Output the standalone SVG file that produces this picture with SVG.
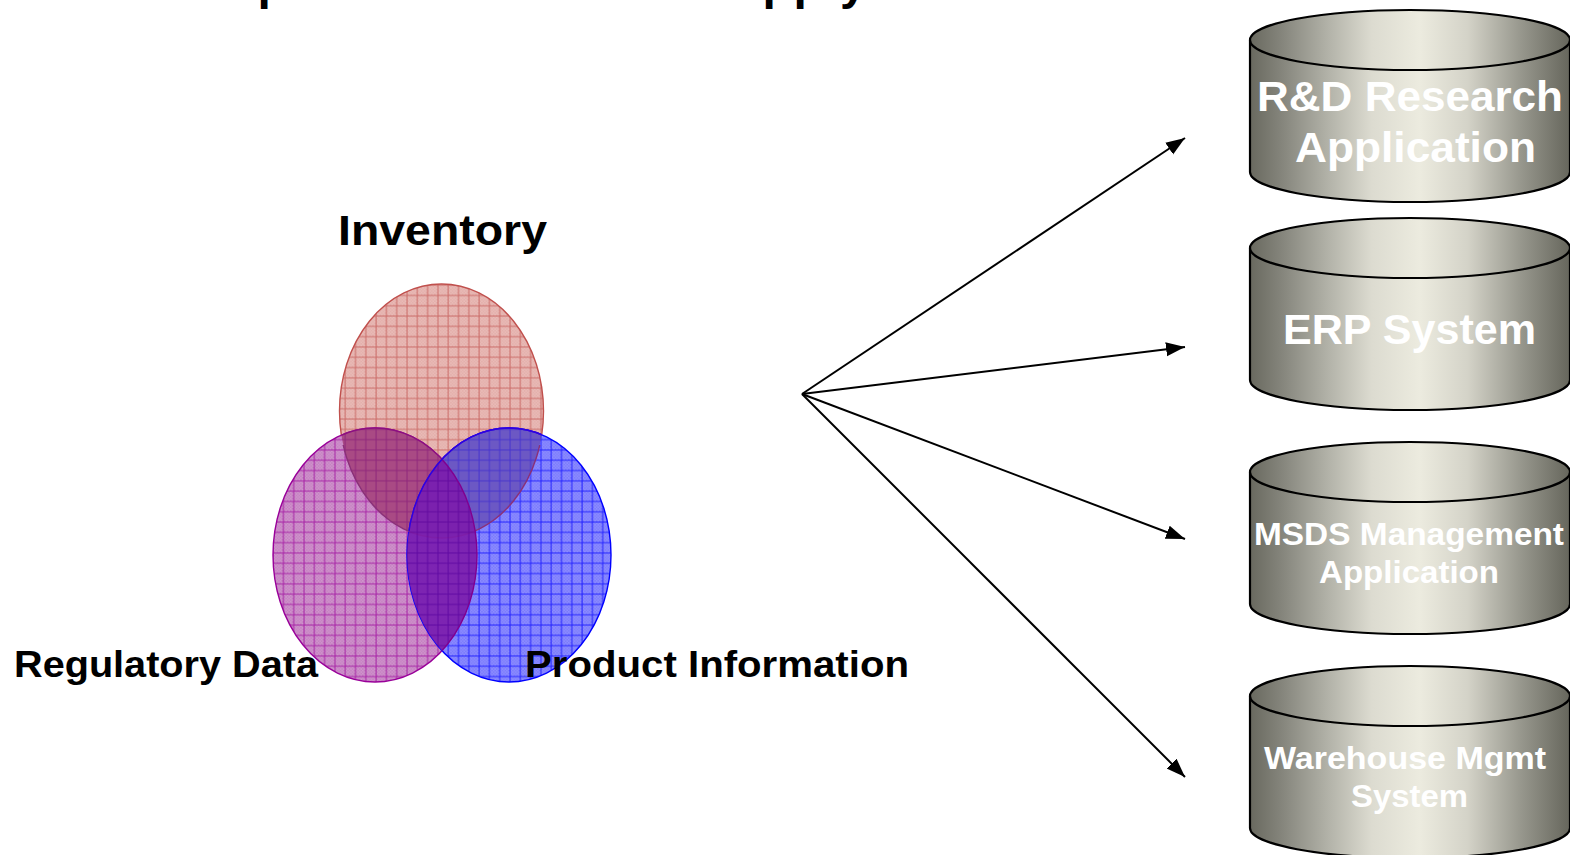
<svg xmlns="http://www.w3.org/2000/svg" width="1570" height="855" viewBox="0 0 1570 855">
<style>
text{font-family:"Liberation Sans",Arial,sans-serif;font-weight:bold}
.k{fill:#000}
.w{fill:#fff}
.cy{stroke:#000;stroke-width:2.2;fill:url(#metal)}
.c{stroke:#000;stroke-width:2;fill:none;marker-end:url(#ah)}
.g{fill:none;stroke-width:1;stroke-opacity:.75}
.e{stroke-width:1.400}
</style>
<defs>
<linearGradient id="metal" x1="0" x2="1" y1="0" y2="0">
<stop offset="0" stop-color="#69695f"/><stop offset=".1" stop-color="#85857c"/><stop offset=".25" stop-color="#b4b4aa"/><stop offset=".38" stop-color="#dcdbd0"/><stop offset=".53" stop-color="#ecebdf"/><stop offset=".68" stop-color="#d4d3c8"/><stop offset=".85" stop-color="#96968c"/><stop offset="1" stop-color="#66665c"/>
</linearGradient>
<marker id="ah" markerUnits="userSpaceOnUse" markerWidth="20" markerHeight="16" refX="19" refY="7.500" orient="auto"><path d="M0,0.500L19,7.500L0,14.500z" fill="#000"/></marker>
<pattern id="dr" width="3" height="3" patternUnits="userSpaceOnUse"><rect width="3" height="3" fill="#e3aeaa"/><path d="M0,0h1.500v1.500h-1.500zM1.500,1.500h1.500v1.500h-1.500z" fill="#e9bcb8"/></pattern>
<pattern id="dp" width="3" height="3" patternUnits="userSpaceOnUse"><rect width="3" height="3" fill="#c47fc0"/><path d="M0,0h1.500v1.500h-1.500zM1.500,1.500h1.500v1.500h-1.500z" fill="#d096cd"/></pattern>
<pattern id="db" width="3" height="3" patternUnits="userSpaceOnUse"><rect width="3" height="3" fill="#7a7afb"/><path d="M0,0h1.500v1.500h-1.500zM1.500,1.500h1.500v1.500h-1.500z" fill="#8e8eff"/></pattern>
<pattern id="pr" width="10.3" height="10.3" patternUnits="userSpaceOnUse" x="4.300" y="6.100"><rect width="10.3" height="10.3" fill="url(#dr)"/><path class="g" d="M0,1H10.3M1,0V10.3" stroke="#c0504d"/></pattern>
<pattern id="pp" width="10.3" height="10.3" patternUnits="userSpaceOnUse" x="4.300" y="6.100"><rect width="10.3" height="10.3" fill="url(#dp)"/><path class="g" d="M0,1H10.3M1,0V10.3" stroke="#990099"/></pattern>
<pattern id="pb" width="10.3" height="10.3" patternUnits="userSpaceOnUse" x="4.300" y="6.100"><rect width="10.3" height="10.3" fill="url(#db)"/><path class="g" d="M0,1H10.3M1,0V10.3" stroke="#0000ff"/></pattern>
<pattern id="pl" width="10.3" height="10.3" patternUnits="userSpaceOnUse" x="4.300" y="6.100"><rect width="10.3" height="10.3" fill="#7c1cac"/><path class="g" d="M0,1H10.3M1,0V10.3" stroke="#5c0094"/></pattern>
<pattern id="prp" width="10.3" height="10.3" patternUnits="userSpaceOnUse" x="4.300" y="6.100"><rect width="10.3" height="10.3" fill="#a94a84"/><path class="g" d="M0,1H10.3M1,0V10.3" stroke="#851a78"/></pattern>
<pattern id="prb" width="10.3" height="10.3" patternUnits="userSpaceOnUse" x="4.300" y="6.100"><rect width="10.3" height="10.3" fill="#6c58c4"/><path class="g" d="M0,1H10.3M1,0V10.3" stroke="#3a28d0"/></pattern>
<clipPath id="cb"><ellipse cx="509" cy="555" rx="102" ry="127"/></clipPath>
<clipPath id="ct"><ellipse cx="441.500" cy="411" rx="102" ry="127"/></clipPath>
<clipPath id="low"><rect x="330" y="445" width="225" height="100"/></clipPath>
<path id="cyl" class="cy" d="M1250,40V172A160,30 0 0 0 1570,172V40"/>
</defs>
<g id="title-fragment" font-size="48">
<text class="k" x="257.500" y="-1">p</text><text class="k" x="762.500" y="-1">p</text><text class="k" x="793.500" y="-1">p</text><text class="k" x="840" y="-1">y</text>
</g>
<g id="venn">
<ellipse id="inv" class="e" cx="441.500" cy="411" rx="102" ry="127" fill="url(#pr)" stroke="#c0504d"/>
<ellipse id="reg" class="e" cx="375" cy="555" rx="102" ry="127" fill="url(#pp)" stroke="#990099"/>
<ellipse id="prod" class="e" cx="509" cy="555" rx="102" ry="127" fill="url(#pb)" stroke="#0000ff"/>
<ellipse id="inv-reg" class="e" cx="375" cy="555" rx="102" ry="127" fill="url(#prp)" stroke="#8c1080" clip-path="url(#ct)"/>
<ellipse id="inv-prod" class="e" cx="509" cy="555" rx="102" ry="127" fill="url(#prb)" stroke="#2a10e0" clip-path="url(#ct)"/>
<g clip-path="url(#low)"><ellipse id="inv-arc" class="e" cx="441.500" cy="411" rx="102" ry="127" fill="none" stroke="#8a3078"/></g>
<ellipse id="reg-prod" class="e" cx="375" cy="555" rx="102" ry="127" fill="url(#pl)" fill-opacity=".92" stroke="#800090" clip-path="url(#cb)"/>
<ellipse id="prod-arc" class="e" cx="509" cy="555" rx="102" ry="127" fill="none" stroke="#3000e0" clip-path="url(#ct)"/>
</g>
<g id="labels">
<text class="k" x="338" y="245" font-size="42" textLength="209" lengthAdjust="spacingAndGlyphs">Inventory</text>
<text class="k" x="14" y="677" font-size="36" textLength="304" lengthAdjust="spacingAndGlyphs">Regulatory Data</text>
<text class="k" x="525" y="677" font-size="36" textLength="384" lengthAdjust="spacingAndGlyphs">Product Information</text>
</g>
<g id="connectors">
<path class="c" d="M802,394L1185,138"/>
<path class="c" d="M802,394L1185,347"/>
<path class="c" d="M802,394L1185,539"/>
<path class="c" d="M802,394L1185,777"/>
</g>
<g id="rd"><use href="#cyl"/><ellipse class="cy" cx="1410" cy="40" rx="160" ry="30"/>
<text class="w" x="1257" y="111" font-size="43" textLength="306" lengthAdjust="spacingAndGlyphs">R&amp;D Research</text>
<text class="w" x="1295" y="162" font-size="43" textLength="241" lengthAdjust="spacingAndGlyphs">Application</text></g>
<g id="erp"><g transform="translate(0,208)"><use href="#cyl"/><ellipse class="cy" cx="1410" cy="40" rx="160" ry="30"/></g>
<text class="w" x="1283" y="344" font-size="43" textLength="253" lengthAdjust="spacingAndGlyphs">ERP System</text></g>
<g id="msds"><g transform="translate(0,432)"><use href="#cyl"/><ellipse class="cy" cx="1410" cy="40" rx="160" ry="30"/></g>
<text class="w" x="1254" y="545" font-size="32" textLength="310" lengthAdjust="spacingAndGlyphs">MSDS Management</text>
<text class="w" x="1319" y="583" font-size="32" textLength="180" lengthAdjust="spacingAndGlyphs">Application</text></g>
<g id="wms"><g transform="translate(0,656)"><use href="#cyl"/><ellipse class="cy" cx="1410" cy="40" rx="160" ry="30"/></g>
<text class="w" x="1264" y="769" font-size="32" textLength="282" lengthAdjust="spacingAndGlyphs">Warehouse Mgmt</text>
<text class="w" x="1351" y="807" font-size="32" textLength="117" lengthAdjust="spacingAndGlyphs">System</text></g>
</svg>
